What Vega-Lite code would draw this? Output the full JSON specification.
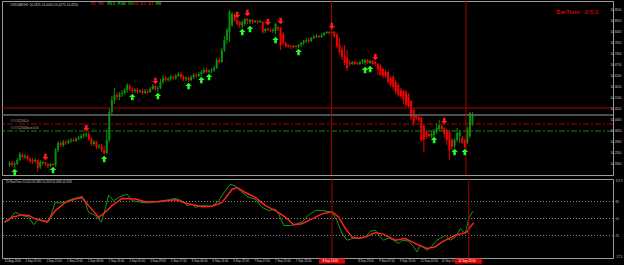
{
"$schema":"https://vega.github.io/schema/vega-lite/v6.json",
"background":"#000000",
"padding":{"left":0,"top":0,"right":0,"bottom":0},
"spacing":2,
"config":{
 "view":{"stroke":"#9a9a9a","strokeWidth":1}
},
"datasets":{
"candles":[
{"i":0,"o":14.175,"c":14.185,"h":14.195,"l":14.165},
{"i":1,"o":14.185,"c":14.175,"h":14.195,"l":14.165},
{"i":2,"o":14.175,"c":14.18,"h":14.19,"l":14.16},
{"i":3,"o":14.18,"c":14.2,"h":14.21,"l":14.175},
{"i":4,"o":14.2,"c":14.23,"h":14.24,"l":14.195},
{"i":5,"o":14.225,"c":14.215,"h":14.235,"l":14.21},
{"i":6,"o":14.215,"c":14.22,"h":14.23,"l":14.205},
{"i":7,"o":14.22,"c":14.205,"h":14.225,"l":14.195},
{"i":8,"o":14.205,"c":14.195,"h":14.215,"l":14.185},
{"i":9,"o":14.2,"c":14.19,"h":14.21,"l":14.18},
{"i":10,"o":14.195,"c":14.2,"h":14.21,"l":14.185},
{"i":11,"o":14.2,"c":14.16,"h":14.205,"l":14.14},
{"i":12,"o":14.165,"c":14.19,"h":14.2,"l":14.155},
{"i":13,"o":14.185,"c":14.19,"h":14.195,"l":14.175},
{"i":14,"o":14.19,"c":14.18,"h":14.19,"l":14.17},
{"i":15,"o":14.18,"c":14.17,"h":14.185,"l":14.16},
{"i":16,"o":14.17,"c":14.18,"h":14.185,"l":14.165},
{"i":17,"o":14.18,"c":14.175,"h":14.185,"l":14.17},
{"i":18,"o":14.175,"c":14.25,"h":14.26,"l":14.165},
{"i":19,"o":14.25,"c":14.285,"h":14.295,"l":14.24},
{"i":20,"o":14.285,"c":14.275,"h":14.295,"l":14.265},
{"i":21,"o":14.275,"c":14.29,"h":14.3,"l":14.265},
{"i":22,"o":14.29,"c":14.285,"h":14.3,"l":14.275},
{"i":23,"o":14.285,"c":14.295,"h":14.305,"l":14.28},
{"i":24,"o":14.295,"c":14.3,"h":14.31,"l":14.285},
{"i":25,"o":14.3,"c":14.295,"h":14.31,"l":14.29},
{"i":26,"o":14.295,"c":14.305,"h":14.315,"l":14.29},
{"i":27,"o":14.305,"c":14.31,"h":14.32,"l":14.3},
{"i":28,"o":14.31,"c":14.32,"h":14.33,"l":14.305},
{"i":29,"o":14.32,"c":14.325,"h":14.335,"l":14.31},
{"i":30,"o":14.325,"c":14.33,"h":14.34,"l":14.315},
{"i":31,"o":14.33,"c":14.305,"h":14.34,"l":14.295},
{"i":32,"o":14.305,"c":14.28,"h":14.315,"l":14.27},
{"i":33,"o":14.28,"c":14.29,"h":14.3,"l":14.27},
{"i":34,"o":14.29,"c":14.265,"h":14.295,"l":14.255},
{"i":35,"o":14.265,"c":14.27,"h":14.28,"l":14.255},
{"i":36,"o":14.27,"c":14.25,"h":14.28,"l":14.24},
{"i":37,"o":14.25,"c":14.235,"h":14.27,"l":14.225},
{"i":38,"o":14.235,"c":14.3,"h":14.35,"l":14.23},
{"i":39,"o":14.3,"c":14.44,"h":14.46,"l":14.29},
{"i":40,"o":14.44,"c":14.5,"h":14.52,"l":14.43},
{"i":41,"o":14.5,"c":14.525,"h":14.56,"l":14.48},
{"i":42,"o":14.525,"c":14.515,"h":14.54,"l":14.5},
{"i":43,"o":14.515,"c":14.53,"h":14.54,"l":14.5},
{"i":44,"o":14.53,"c":14.535,"h":14.55,"l":14.515},
{"i":45,"o":14.535,"c":14.55,"h":14.56,"l":14.525},
{"i":46,"o":14.55,"c":14.575,"h":14.585,"l":14.535},
{"i":47,"o":14.57,"c":14.555,"h":14.58,"l":14.545},
{"i":48,"o":14.555,"c":14.545,"h":14.565,"l":14.535},
{"i":49,"o":14.545,"c":14.55,"h":14.56,"l":14.535},
{"i":50,"o":14.55,"c":14.54,"h":14.56,"l":14.53},
{"i":51,"o":14.54,"c":14.545,"h":14.555,"l":14.535},
{"i":52,"o":14.545,"c":14.535,"h":14.555,"l":14.525},
{"i":53,"o":14.535,"c":14.545,"h":14.555,"l":14.53},
{"i":54,"o":14.545,"c":14.54,"h":14.555,"l":14.53},
{"i":55,"o":14.54,"c":14.555,"h":14.565,"l":14.535},
{"i":56,"o":14.555,"c":14.57,"h":14.58,"l":14.55},
{"i":57,"o":14.57,"c":14.555,"h":14.575,"l":14.545},
{"i":58,"o":14.555,"c":14.56,"h":14.57,"l":14.54},
{"i":59,"o":14.56,"c":14.59,"h":14.605,"l":14.555},
{"i":60,"o":14.59,"c":14.61,"h":14.625,"l":14.58},
{"i":61,"o":14.61,"c":14.6,"h":14.62,"l":14.59},
{"i":62,"o":14.6,"c":14.605,"h":14.615,"l":14.59},
{"i":63,"o":14.605,"c":14.615,"h":14.625,"l":14.595},
{"i":64,"o":14.615,"c":14.61,"h":14.625,"l":14.6},
{"i":65,"o":14.61,"c":14.62,"h":14.63,"l":14.6},
{"i":66,"o":14.62,"c":14.63,"h":14.64,"l":14.615},
{"i":67,"o":14.63,"c":14.615,"h":14.64,"l":14.605},
{"i":68,"o":14.615,"c":14.605,"h":14.625,"l":14.595},
{"i":69,"o":14.605,"c":14.61,"h":14.62,"l":14.595},
{"i":70,"o":14.61,"c":14.6,"h":14.62,"l":14.59},
{"i":71,"o":14.6,"c":14.615,"h":14.625,"l":14.595},
{"i":72,"o":14.615,"c":14.625,"h":14.635,"l":14.605},
{"i":73,"o":14.625,"c":14.62,"h":14.635,"l":14.61},
{"i":74,"o":14.62,"c":14.63,"h":14.64,"l":14.615},
{"i":75,"o":14.63,"c":14.64,"h":14.65,"l":14.62},
{"i":76,"o":14.64,"c":14.65,"h":14.66,"l":14.63},
{"i":77,"o":14.65,"c":14.64,"h":14.66,"l":14.635},
{"i":78,"o":14.64,"c":14.645,"h":14.655,"l":14.635},
{"i":79,"o":14.645,"c":14.65,"h":14.66,"l":14.635},
{"i":80,"o":14.65,"c":14.66,"h":14.67,"l":14.64},
{"i":81,"o":14.66,"c":14.7,"h":14.71,"l":14.655},
{"i":82,"o":14.7,"c":14.69,"h":14.715,"l":14.68},
{"i":83,"o":14.69,"c":14.75,"h":14.76,"l":14.685},
{"i":84,"o":14.75,"c":14.8,"h":14.82,"l":14.74},
{"i":85,"o":14.8,"c":14.85,"h":14.86,"l":14.78},
{"i":86,"o":14.84,"c":14.94,"h":14.95,"l":14.79},
{"i":87,"o":14.875,"c":14.93,"h":14.94,"l":14.865},
{"i":88,"o":14.925,"c":14.9,"h":14.935,"l":14.89},
{"i":89,"o":14.9,"c":14.88,"h":14.905,"l":14.87},
{"i":90,"o":14.89,"c":14.875,"h":14.895,"l":14.86},
{"i":91,"o":14.87,"c":14.89,"h":14.9,"l":14.86},
{"i":92,"o":14.88,"c":14.905,"h":14.91,"l":14.87},
{"i":93,"o":14.905,"c":14.895,"h":14.91,"l":14.88},
{"i":94,"o":14.89,"c":14.9,"h":14.905,"l":14.88},
{"i":95,"o":14.9,"c":14.89,"h":14.905,"l":14.88},
{"i":96,"o":14.89,"c":14.895,"h":14.9,"l":14.885},
{"i":97,"o":14.895,"c":14.89,"h":14.9,"l":14.88},
{"i":98,"o":14.89,"c":14.895,"h":14.9,"l":14.885},
{"i":99,"o":14.89,"c":14.84,"h":14.895,"l":14.83},
{"i":100,"o":14.845,"c":14.855,"h":14.86,"l":14.835},
{"i":101,"o":14.855,"c":14.85,"h":14.865,"l":14.845},
{"i":102,"o":14.85,"c":14.845,"h":14.86,"l":14.84},
{"i":103,"o":14.845,"c":14.85,"h":14.86,"l":14.835},
{"i":104,"o":14.845,"c":14.88,"h":14.885,"l":14.83},
{"i":105,"o":14.865,"c":14.855,"h":14.87,"l":14.845},
{"i":106,"o":14.86,"c":14.775,"h":14.865,"l":14.75},
{"i":107,"o":14.83,"c":14.785,"h":14.84,"l":14.775},
{"i":108,"o":14.785,"c":14.77,"h":14.79,"l":14.76},
{"i":109,"o":14.775,"c":14.765,"h":14.78,"l":14.76},
{"i":110,"o":14.77,"c":14.765,"h":14.775,"l":14.755},
{"i":111,"o":14.765,"c":14.77,"h":14.775,"l":14.76},
{"i":112,"o":14.77,"c":14.765,"h":14.775,"l":14.755},
{"i":113,"o":14.765,"c":14.775,"h":14.78,"l":14.76},
{"i":114,"o":14.775,"c":14.785,"h":14.79,"l":14.765},
{"i":115,"o":14.785,"c":14.795,"h":14.8,"l":14.775},
{"i":116,"o":14.795,"c":14.8,"h":14.81,"l":14.785},
{"i":117,"o":14.8,"c":14.795,"h":14.81,"l":14.785},
{"i":118,"o":14.795,"c":14.81,"h":14.815,"l":14.79},
{"i":119,"o":14.81,"c":14.815,"h":14.825,"l":14.805},
{"i":120,"o":14.815,"c":14.82,"h":14.83,"l":14.81},
{"i":121,"o":14.82,"c":14.815,"h":14.825,"l":14.81},
{"i":122,"o":14.815,"c":14.825,"h":14.835,"l":14.81},
{"i":123,"o":14.825,"c":14.835,"h":14.84,"l":14.82},
{"i":124,"o":14.835,"c":14.84,"h":14.845,"l":14.83},
{"i":125,"o":14.84,"c":14.835,"h":14.845,"l":14.825},
{"i":126,"o":14.835,"c":14.84,"h":14.845,"l":14.83},
{"i":127,"o":14.84,"c":14.82,"h":14.845,"l":14.81},
{"i":128,"o":14.825,"c":14.77,"h":14.835,"l":14.76},
{"i":129,"o":14.78,"c":14.74,"h":14.81,"l":14.725},
{"i":130,"o":14.75,"c":14.715,"h":14.77,"l":14.7},
{"i":131,"o":14.72,"c":14.685,"h":14.775,"l":14.675},
{"i":132,"o":14.71,"c":14.66,"h":14.75,"l":14.645},
{"i":133,"o":14.685,"c":14.68,"h":14.7,"l":14.67},
{"i":134,"o":14.68,"c":14.69,"h":14.695,"l":14.675},
{"i":135,"o":14.69,"c":14.68,"h":14.695,"l":14.675},
{"i":136,"o":14.685,"c":14.68,"h":14.69,"l":14.675},
{"i":137,"o":14.68,"c":14.69,"h":14.695,"l":14.675},
{"i":138,"o":14.69,"c":14.7,"h":14.705,"l":14.68},
{"i":139,"o":14.685,"c":14.7,"h":14.705,"l":14.675},
{"i":140,"o":14.7,"c":14.685,"h":14.705,"l":14.68},
{"i":141,"o":14.685,"c":14.695,"h":14.7,"l":14.68},
{"i":142,"o":14.695,"c":14.68,"h":14.7,"l":14.675},
{"i":143,"o":14.69,"c":14.68,"h":14.695,"l":14.67},
{"i":144,"o":14.68,"c":14.65,"h":14.685,"l":14.625},
{"i":145,"o":14.67,"c":14.625,"h":14.68,"l":14.62},
{"i":146,"o":14.655,"c":14.62,"h":14.66,"l":14.61},
{"i":147,"o":14.64,"c":14.62,"h":14.65,"l":14.61},
{"i":148,"o":14.64,"c":14.59,"h":14.645,"l":14.58},
{"i":149,"o":14.61,"c":14.575,"h":14.62,"l":14.565},
{"i":150,"o":14.615,"c":14.565,"h":14.625,"l":14.55},
{"i":151,"o":14.59,"c":14.54,"h":14.6,"l":14.53},
{"i":152,"o":14.575,"c":14.525,"h":14.585,"l":14.515},
{"i":153,"o":14.55,"c":14.52,"h":14.56,"l":14.51},
{"i":154,"o":14.545,"c":14.5,"h":14.55,"l":14.48},
{"i":155,"o":14.54,"c":14.475,"h":14.55,"l":14.465},
{"i":156,"o":14.525,"c":14.47,"h":14.535,"l":14.46},
{"i":157,"o":14.495,"c":14.415,"h":14.5,"l":14.4},
{"i":158,"o":14.45,"c":14.385,"h":14.46,"l":14.37},
{"i":159,"o":14.42,"c":14.41,"h":14.425,"l":14.4},
{"i":160,"o":14.415,"c":14.4,"h":14.42,"l":14.39},
{"i":161,"o":14.41,"c":14.3,"h":14.415,"l":14.29},
{"i":162,"o":14.37,"c":14.3,"h":14.38,"l":14.24},
{"i":163,"o":14.34,"c":14.315,"h":14.35,"l":14.305},
{"i":164,"o":14.33,"c":14.32,"h":14.34,"l":14.31},
{"i":165,"o":14.32,"c":14.33,"h":14.345,"l":14.31},
{"i":166,"o":14.325,"c":14.345,"h":14.355,"l":14.315},
{"i":167,"o":14.34,"c":14.36,"h":14.385,"l":14.33},
{"i":168,"o":14.355,"c":14.375,"h":14.4,"l":14.345},
{"i":169,"o":14.37,"c":14.355,"h":14.375,"l":14.345},
{"i":170,"o":14.36,"c":14.33,"h":14.365,"l":14.31},
{"i":171,"o":14.35,"c":14.3,"h":14.355,"l":14.275},
{"i":172,"o":14.34,"c":14.25,"h":14.35,"l":14.2},
{"i":173,"o":14.3,"c":14.265,"h":14.31,"l":14.25},
{"i":174,"o":14.27,"c":14.3,"h":14.31,"l":14.26},
{"i":175,"o":14.3,"c":14.335,"h":14.36,"l":14.29},
{"i":176,"o":14.32,"c":14.34,"h":14.35,"l":14.285},
{"i":177,"o":14.31,"c":14.285,"h":14.32,"l":14.28},
{"i":178,"o":14.3,"c":14.265,"h":14.305,"l":14.26},
{"i":179,"o":14.285,"c":14.355,"h":14.365,"l":14.28},
{"i":180,"o":14.32,"c":14.435,"h":14.44,"l":14.31},
{"i":181,"o":14.375,"c":14.425,"h":14.44,"l":14.37}
],
"arrows":[
{"i":2,"p":14.14,"d":"u"},{"i":17,"p":14.15,"d":"u"},{"i":37,"p":14.205,"d":"u"},{"i":48,"p":14.515,"d":"u"},{"i":58,"p":14.52,"d":"u"},{"i":70,"p":14.57,"d":"u"},{"i":75,"p":14.6,"d":"u"},{"i":78,"p":14.615,"d":"u"},{"i":91,"p":14.84,"d":"u"},{"i":94,"p":14.855,"d":"u"},{"i":104,"p":14.8,"d":"u"},{"i":113,"p":14.74,"d":"u"},{"i":139,"p":14.65,"d":"u"},{"i":141,"p":14.655,"d":"u"},{"i":166,"p":14.3,"d":"u"},{"i":174,"p":14.24,"d":"u"},{"i":178,"p":14.24,"d":"u"},
{"i":14,"p":14.215,"d":"d"},{"i":30,"p":14.36,"d":"d"},{"i":57,"p":14.595,"d":"d"},{"i":89,"p":14.925,"d":"d"},{"i":93,"p":14.935,"d":"d"},{"i":101,"p":14.89,"d":"d"},{"i":106,"p":14.895,"d":"d"},{"i":126,"p":14.87,"d":"d"},{"i":143,"p":14.715,"d":"d"},{"i":170,"p":14.395,"d":"d"}
],
"vlines":[{"i":125.9},{"i":178.5}],
"pticks":[{"p":14.95},{"p":14.895},{"p":14.84},{"p":14.785},{"p":14.73},{"p":14.675},{"p":14.62},{"p":14.565},{"p":14.51},{"p":14.455},{"p":14.4},{"p":14.345},{"p":14.29},{"p":14.235},{"p":14.18}],
"oticks":[{"v":117,"t":"117.5"},{"v":80,"t":"80"},{"v":50,"t":"50"},{"v":20,"t":"20"},{"v":-17,"t":"-17.5"}],
"tticks":[{"i":0,"t":"31 Aug 2016"},{"i":8,"t":"1 Sep 07:00"},{"i":16,"t":"1 Sep 15:00"},{"i":24,"t":"1 Sep 23:00"},{"i":32,"t":"2 Sep 08:00"},{"i":40,"t":"2 Sep 16:00"},{"i":48,"t":"5 Sep 01:00"},{"i":56,"t":"5 Sep 09:00"},{"i":64,"t":"5 Sep 17:00"},{"i":72,"t":"6 Sep 06:00"},{"i":80,"t":"6 Sep 14:00"},{"i":88,"t":"6 Sep 22:00"},{"i":96,"t":"7 Sep 07:00"},{"i":104,"t":"7 Sep 15:00"},{"i":112,"t":"7 Sep 23:00"},{"i":136,"t":"8 Sep 23:00"},{"i":144,"t":"9 Sep 07:00"},{"i":152,"t":"9 Sep 15:00"},{"i":160,"t":"12 Sep 02:00"},{"i":168,"t":"12 Sep 10:00"}],
"osc":[
{"s":"g","i":0,"v":43.6},{"s":"g","i":1.6,"v":46.5},{"s":"g","i":4.1,"v":61.1},{"s":"g","i":5.4,"v":58.2},{"s":"g","i":6.7,"v":55.3},{"s":"g","i":9.3,"v":52.3},{"s":"g","i":11.2,"v":39},{"s":"g","i":13.1,"v":49.4},{"s":"g","i":14.4,"v":46.5},{"s":"g","i":17,"v":44.7},{"s":"g","i":19.5,"v":78.6},{"s":"g","i":21.4,"v":77.4},{"s":"g","i":23.4,"v":79.7},{"s":"g","i":25.9,"v":84.4},{"s":"g","i":29.8,"v":89.1},{"s":"g","i":31,"v":78.6},{"s":"g","i":32.3,"v":61.1},{"s":"g","i":34.9,"v":55.3},{"s":"g","i":37.2,"v":43.6},{"s":"g","i":38.7,"v":66.9},{"s":"g","i":40,"v":91.4},{"s":"g","i":41.9,"v":81.5},{"s":"g","i":43.9,"v":87.3},{"s":"g","i":47.1,"v":93.2},{"s":"g","i":49,"v":81.5},{"s":"g","i":52.8,"v":78.6},{"s":"g","i":55.4,"v":77.4},{"s":"g","i":58,"v":79.7},{"s":"g","i":60.5,"v":81.5},{"s":"g","i":63.1,"v":83.2},{"s":"g","i":65.7,"v":85.6},{"s":"g","i":68.2,"v":81.5},{"s":"g","i":70.2,"v":72.8},{"s":"g","i":72.1,"v":75.7},{"s":"g","i":73.4,"v":69.8},{"s":"g","i":75.9,"v":72.8},{"s":"g","i":79.8,"v":71.6},{"s":"g","i":82.3,"v":81.5},{"s":"g","i":84.9,"v":99},{"s":"g","i":86.8,"v":110.7},{"s":"g","i":88.7,"v":107.8},{"s":"g","i":91.3,"v":96.1},{"s":"g","i":93.9,"v":87.3},{"s":"g","i":96.4,"v":84.4},{"s":"g","i":99,"v":69.8},{"s":"g","i":101.6,"v":64},{"s":"g","i":104.1,"v":66.9},{"s":"g","i":105.4,"v":58.2},{"s":"g","i":107.3,"v":37.7},{"s":"g","i":110.5,"v":37.7},{"s":"g","i":114.4,"v":43.6},{"s":"g","i":117,"v":56.4},{"s":"g","i":119.5,"v":64},{"s":"g","i":122.1,"v":64},{"s":"g","i":124.6,"v":62.3},{"s":"g","i":125.9,"v":61.1},{"s":"g","i":127.8,"v":46.5},{"s":"g","i":129.8,"v":23.2},{"s":"g","i":131.7,"v":11.5},{"s":"g","i":133.6,"v":14.4},{"s":"g","i":136.2,"v":15.6},{"s":"g","i":138.7,"v":17.3},{"s":"g","i":140.7,"v":27.3},{"s":"g","i":142.6,"v":29},{"s":"g","i":144.5,"v":17.3},{"s":"g","i":145.8,"v":11.5},{"s":"g","i":147.7,"v":15.6},{"s":"g","i":149.6,"v":11.5},{"s":"g","i":151.6,"v":5.7},{"s":"g","i":152.8,"v":11.5},{"s":"g","i":155.4,"v":9.8},{"s":"g","i":157.3,"v":-0.2},{"s":"g","i":158.6,"v":-8.9},{"s":"g","i":159.9,"v":2.7},{"s":"g","i":162.5,"v":-6},{"s":"g","i":163.7,"v":-1.9},{"s":"g","i":166.3,"v":11.5},{"s":"g","i":169.5,"v":20.3},{"s":"g","i":171.4,"v":11.5},{"s":"g","i":173.4,"v":17.3},{"s":"g","i":175.3,"v":31.9},{"s":"g","i":177.2,"v":23.2},{"s":"g","i":178.5,"v":49.4},{"s":"g","i":179.8,"v":61.1},{"s":"g","i":180.4,"v":62.3},
{"s":"r","i":0,"v":43.6},{"s":"r","i":2.8,"v":52.3},{"s":"r","i":6.7,"v":56.4},{"s":"r","i":9.3,"v":55.3},{"s":"r","i":11.8,"v":49.4},{"s":"r","i":16.3,"v":43.6},{"s":"r","i":19.5,"v":64},{"s":"r","i":23.4,"v":78.6},{"s":"r","i":27.2,"v":84.4},{"s":"r","i":29.8,"v":87.3},{"s":"r","i":32.3,"v":72.8},{"s":"r","i":36.2,"v":52.3},{"s":"r","i":38.7,"v":61.1},{"s":"r","i":41.3,"v":72.8},{"s":"r","i":45.2,"v":85.6},{"s":"r","i":50.3,"v":84.4},{"s":"r","i":54.1,"v":79.7},{"s":"r","i":59.3,"v":79.7},{"s":"r","i":65.7,"v":83.2},{"s":"r","i":70.8,"v":75.7},{"s":"r","i":75.9,"v":71},{"s":"r","i":79.8,"v":71.6},{"s":"r","i":83.6,"v":78.6},{"s":"r","i":87.5,"v":101.9},{"s":"r","i":89.4,"v":104.8},{"s":"r","i":92.6,"v":96.1},{"s":"r","i":96.4,"v":87.3},{"s":"r","i":100.3,"v":72.8},{"s":"r","i":104.1,"v":64},{"s":"r","i":108,"v":52.3},{"s":"r","i":111.2,"v":39},{"s":"r","i":114.4,"v":40.7},{"s":"r","i":118.2,"v":49.4},{"s":"r","i":122.1,"v":58.2},{"s":"r","i":125.9,"v":62.3},{"s":"r","i":128.5,"v":52.3},{"s":"r","i":131.1,"v":31.9},{"s":"r","i":133.6,"v":17.3},{"s":"r","i":136.2,"v":14.4},{"s":"r","i":138.7,"v":17.3},{"s":"r","i":142.6,"v":24.9},{"s":"r","i":145.2,"v":23.2},{"s":"r","i":147.7,"v":17.3},{"s":"r","i":150.3,"v":11.5},{"s":"r","i":154.1,"v":14.4},{"s":"r","i":156.7,"v":8.6},{"s":"r","i":159.3,"v":2.8},{"s":"r","i":162.5,"v":-3.1},{"s":"r","i":165.7,"v":-0.2},{"s":"r","i":168.2,"v":8.6},{"s":"r","i":170.8,"v":14.4},{"s":"r","i":173.4,"v":20.3},{"s":"r","i":175.9,"v":23.2},{"s":"r","i":177.8,"v":26.1},{"s":"r","i":179.1,"v":34.8},{"s":"r","i":180.4,"v":42.4}
]
},
"vconcat":[
{
 "width":611,"height":174,
 "encoding":{
  "x":{"type":"quantitative","scale":{"domain":[-1,234],"nice":false,"zero":false},"axis":null},
  "y":{"type":"quantitative","scale":{"domain":[14.125,14.995],"nice":false,"zero":false},"axis":null}
 },
 "layer":[
  {"data":{"name":"candles"},"mark":{"type":"rule","strokeWidth":1},
   "encoding":{"x":{"field":"i","type":"quantitative"},"y":{"field":"l","type":"quantitative"},"y2":{"field":"h"},
    "color":{"condition":{"test":"datum.c >= datum.o","value":"#0a910a"},"value":"#e80000"}}},
  {"data":{"name":"candles"},"mark":{"type":"bar","size":2},
   "encoding":{"x":{"field":"i","type":"quantitative"},"y":{"field":"o","type":"quantitative"},"y2":{"field":"c"},
    "color":{"condition":{"test":"datum.c >= datum.o","value":"#0a910a"},"value":"#f00000"}}},
  {"data":{"values":[{"p":14.46}]},"mark":{"type":"rule","color":"#b00000","strokeWidth":1},
   "encoding":{"x":null,"y":{"field":"p","type":"quantitative"}}},
  {"data":{"values":[{"p":14.425}]},"mark":{"type":"rule","color":"#6a6a6a","strokeWidth":1.5},
   "encoding":{"x":null,"y":{"field":"p","type":"quantitative"}}},
  {"data":{"values":[{"p":14.38}]},"mark":{"type":"rule","color":"#b00000","strokeWidth":1,"strokeDash":[6,2,2,2]},
   "encoding":{"x":null,"y":{"field":"p","type":"quantitative"}}},
  {"data":{"values":[{"p":14.345}]},"mark":{"type":"rule","color":"#0a8a0a","strokeWidth":1,"strokeDash":[6,2,2,2]},
   "encoding":{"x":null,"y":{"field":"p","type":"quantitative"}}},
  {"data":{"values":[{"p":14.38,"t":"#####(2200),0"},{"p":14.345,"t":"#####(2200)base,0.00"}]},
   "mark":{"type":"text","color":"#b0b0b0","fontSize":2.8,"font":"Liberation Sans","align":"left","baseline":"bottom","dy":-1.5},
   "encoding":{"x":{"datum":0.3},"y":{"field":"p","type":"quantitative"},"text":{"field":"t"}}},
  {"data":{"name":"vlines"},"mark":{"type":"rule","color":"#a80000","strokeWidth":1},
   "encoding":{"x":{"field":"i","type":"quantitative"},"y":null}},
  {"data":{"name":"arrows"},"transform":[{"filter":"datum.d == 'u'"}],
   "mark":{"type":"point","shape":"M0,-1L1,0L0.4,0L0.4,1L-0.4,1L-0.4,0L-1,0Z","filled":true,"size":42,"color":"#22ff22","opacity":1},
   "encoding":{"x":{"field":"i","type":"quantitative"},"y":{"field":"p","type":"quantitative"}}},
  {"data":{"name":"arrows"},"transform":[{"filter":"datum.d == 'd'"}],
   "mark":{"type":"point","shape":"M0,1L1,0L0.4,0L0.4,-1L-0.4,-1L-0.4,0L-1,0Z","filled":true,"size":42,"color":"#ff1a1a","opacity":1},
   "encoding":{"x":{"field":"i","type":"quantitative"},"y":{"field":"p","type":"quantitative"}}},
  {"data":{"name":"pticks"},
   "mark":{"type":"text","color":"#c8c8c8","fontSize":3,"font":"Liberation Sans","align":"left","baseline":"middle"},
   "encoding":{"x":{"datum":234.96},"y":{"field":"p","type":"quantitative"},"text":{"field":"p","type":"quantitative","format":".4f"}}},
  {"data":{"values":[{"t":"USDZAR,H1 14.4325 14.4410 14.4275 14.4250"}]},
   "mark":{"type":"text","color":"#c8c8c8","fontSize":3.2,"font":"Liberation Sans","align":"left","baseline":"middle"},
   "encoding":{"x":{"datum":0.3},"y":{"datum":14.978},"text":{"field":"t"}}},
  {"data":{"values":[{"t":"M1 M5"}]},
   "mark":{"type":"text","color":"#ff0000","fontSize":4.3,"font":"DejaVu Sans Mono","align":"left","baseline":"middle"},
   "encoding":{"x":{"datum":31.7},"y":{"datum":14.978},"text":{"field":"t"}}},
  {"data":{"values":[{"t":"M15 M30 H1"}]},
   "mark":{"type":"text","color":"#00e000","fontSize":4.3,"font":"DejaVu Sans Mono","align":"left","baseline":"middle"},
   "encoding":{"x":{"datum":38.3},"y":{"datum":14.978},"text":{"field":"t"}}},
  {"data":{"values":[{"t":"H4 D1 W1"}]},
   "mark":{"type":"text","color":"#ff0000","fontSize":4.3,"font":"DejaVu Sans Mono","align":"left","baseline":"middle"},
   "encoding":{"x":{"datum":48.2},"y":{"datum":14.978},"text":{"field":"t"}}},
  {"data":{"values":[{"t":"MN"}]},
   "mark":{"type":"text","color":"#00e000","fontSize":4.3,"font":"DejaVu Sans Mono","align":"left","baseline":"middle"},
   "encoding":{"x":{"datum":57.2},"y":{"datum":14.978},"text":{"field":"t"}}},
  {"data":{"values":[{"t":"BarTime:\u00a0\u00a00:5:0"}]},
   "mark":{"type":"text","color":"#ff0000","fontSize":6.2,"font":"Liberation Sans","align":"center","baseline":"middle"},
   "encoding":{"x":{"datum":222},"y":{"datum":14.9425},"text":{"field":"t"}}}
 ]
},
{
 "width":611,"height":79,
 "encoding":{
  "x":{"type":"quantitative","scale":{"domain":[-1,234],"nice":false,"zero":false},"axis":null},
  "y":{"type":"quantitative","scale":{"domain":[-20,120],"nice":false,"zero":false},"axis":null}
 },
 "layer":[
  {"data":{"values":[{"v":80},{"v":50},{"v":20}]},"mark":{"type":"rule","color":"#8a8a8a","strokeWidth":1,"strokeDash":[1,2]},
   "encoding":{"x":null,"y":{"field":"v","type":"quantitative"}}},
  {"data":{"name":"osc"},"transform":[{"filter":"datum.s == 'g'"}],
   "mark":{"type":"line","color":"#149a14","strokeWidth":1},
   "encoding":{"x":{"field":"i","type":"quantitative"},"y":{"field":"v","type":"quantitative"}}},
  {"data":{"name":"osc"},"transform":[{"filter":"datum.s == 'r'"}],
   "mark":{"type":"line","color":"#ff2020","strokeWidth":1.5},
   "encoding":{"x":{"field":"i","type":"quantitative"},"y":{"field":"v","type":"quantitative"}}},
  {"data":{"name":"vlines"},"mark":{"type":"rule","color":"#a80000","strokeWidth":1},
   "encoding":{"x":{"field":"i","type":"quantitative"},"y":null}},
  {"data":{"values":[{"t":"TDI RealTime 41.5420 38.0884 50.2609 56.0089 44.9628"}]},
   "mark":{"type":"text","color":"#c8c8c8","fontSize":2.6,"font":"Liberation Sans","align":"left","baseline":"middle"},
   "encoding":{"x":{"datum":0.3},"y":{"datum":114},"text":{"field":"t"}}},
  {"data":{"name":"oticks"},
   "mark":{"type":"text","color":"#c8c8c8","fontSize":3,"font":"Liberation Sans","align":"left","baseline":"middle"},
   "encoding":{"x":{"datum":234.96},"y":{"field":"v","type":"quantitative"},"text":{"field":"t"}}},
  {"data":{"name":"tticks"},
   "mark":{"type":"text","color":"#c8c8c8","fontSize":2.9,"font":"Liberation Sans","align":"left","baseline":"top"},
   "encoding":{"x":{"field":"i","type":"quantitative"},"y":{"datum":-22.6},"text":{"field":"t"}}},
  {"data":{"values":[{"a":120.9,"b":130.9},{"a":173.2,"b":183.6}]},
   "mark":{"type":"rect","color":"#e00000"},
   "encoding":{"x":{"field":"a","type":"quantitative"},"x2":{"field":"b"},"y":{"datum":-21},"y2":{"datum":-30}}},
  {"data":{"values":[{"a":120.9,"t":"8 Sep 13:00"},{"a":173.2,"t":"12 Sep 20:00"}]},
   "mark":{"type":"text","color":"#ffffff","fontSize":2.9,"font":"Liberation Sans","align":"left","baseline":"middle","dx":3.5},
   "encoding":{"x":{"field":"a","type":"quantitative"},"y":{"datum":-25.5},"text":{"field":"t"}}}
 ]
}
]
}
